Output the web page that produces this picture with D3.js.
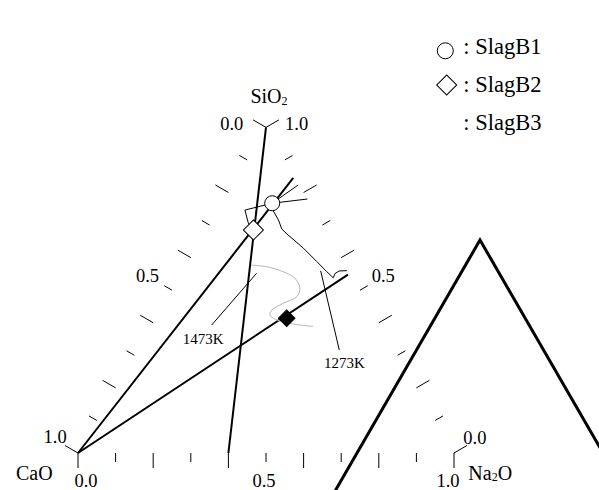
<!DOCTYPE html>
<html>
<head>
<meta charset="utf-8">
<script src="https://cdn.jsdelivr.net/npm/d3@7"></script>
<style>
body { margin: 0; background: #fff; }
svg text { font-family: "Liberation Serif", "Times New Roman", serif; fill: #000; }
</style>
</head>
<body>
<div id="main"></div>
<script>
var ctx = {
    w: 599,
    h: 490,
    left: 78,
    right: 454,
    base: 453,
};

// compositions are [SiO2, CaO, Na2O]
var tickValues = [0, 0.1, 0.2, 0.3, 0.4, 0.5, 0.6, 0.7, 0.8, 0.9, 1.0];
var tickLabels = ["0.0", "0.5", "1.0"];

var sampleNames = ["SlagB1", "SlagB2", "SlagB3"];
var sampleSiO2 = [0.767, 0.685, 0.414];
var sampleCaO = [0.100, 0.191, 0.238];
var sampleNa2O = [0.133, 0.124, 0.348];

var joinFrom = [[0, 1, 0], [0, 1, 0], [1, 0, 0]];
var joinTo = [[0.845, 0.005, 0.150], [0.548, 0.008, 0.444], [0, 0.6, 0.4]];

var tieEnds = [[0.823, 0.003, 0.174], [0.78, 0.0, 0.22]];
var bracket = [[0.746, 0.183, 0.071], [0.7055, 0.194, 0.100]];

var curve1273 = [
    [0.767, 0.100, 0.133], [0.743, 0.109, 0.148], [0.716, 0.109, 0.175],
    [0.688, 0.114, 0.198], [0.673, 0.108, 0.220], [0.629, 0.086, 0.285],
    [0.588, 0.071, 0.341], [0.557, 0.060, 0.383], [0.538, 0.052, 0.410],
    [0.551, 0.041, 0.408], [0.559, 0.026, 0.415], [0.560, 0.005, 0.435],
];
var curve1473 = [
    [0.577, 0.250, 0.173], [0.572, 0.212, 0.216], [0.557, 0.176, 0.268],
    [0.537, 0.155, 0.309], [0.506, 0.157, 0.338], [0.480, 0.178, 0.342],
    [0.460, 0.224, 0.316], [0.439, 0.265, 0.296], [0.424, 0.278, 0.299],
    [0.409, 0.267, 0.324], [0.396, 0.229, 0.375], [0.386, 0.179, 0.428],
];
var leader1273 = [[0.560, 0.075, 0.366], [0.316, 0.147, 0.537]];
var leader1473 = [[0.552, 0.249, 0.199], [0.393, 0.448, 0.159]];

var createViz = function () {
    var svg = d3.select("#main").append("svg")
        .attr("width", ctx.w)
        .attr("height", ctx.h)
        .attr("font-family", "'Liberation Serif', 'Times New Roman', serif");

    var x = d3.scaleLinear().domain([0, 1]).range([ctx.left, ctx.right]);
    var hgt = Math.sqrt(3) / 2;
    var y = d3.scaleLinear().domain([0, hgt])
        .range([ctx.base, ctx.base - (ctx.right - ctx.left) * hgt]);

    var proj = function (c) {
        var s = c[0] + c[1] + c[2];
        return [x(c[2] / s + c[0] / s / 2), y((c[0] / s) * hgt)];
    };
    var line = d3.line().x(function (d) { return proj(d)[0]; })
        .y(function (d) { return proj(d)[1]; });

    // ticks on the three edges, pointing outwards
    var edges = [
        { comp: function (v) { return [1 - v, v, 0]; }, n: [-0.866, -0.5] },
        { comp: function (v) { return [v, 0, 1 - v]; }, n: [0.866, -0.5] },
        { comp: function (v) { return [0, 1 - v, v]; }, n: [0, 1] },
    ];
    var gt = svg.append("g");
    edges.forEach(function (e) {
        gt.selectAll(null)
            .data(tickValues)
            .enter()
            .append("line")
            .attr("x1", function (d) { return proj(e.comp(d))[0]; })
            .attr("y1", function (d) { return proj(e.comp(d))[1]; })
            .attr("x2", function (d, i) { return proj(e.comp(d))[0] + e.n[0] * (i % 2 ? 9 : 15); })
            .attr("y2", function (d, i) { return proj(e.comp(d))[1] + e.n[1] * (i % 2 ? 9 : 15); })
            .attr("stroke", "black")
            .attr("stroke-width", 1);
    });

    // tick labels
    var labelSpots = [
        { e: 0, v: 0, dx: -22.7, dy: 2.6, a: "end" },
        { e: 0, v: 0.5, dx: -13, dy: -8.5, a: "end" },
        { e: 0, v: 1, dx: -11.3, dy: -9.7, a: "end" },
        { e: 1, v: 1, dx: 19, dy: 2.6, a: "start" },
        { e: 1, v: 0.5, dx: 11.7, dy: -8.5, a: "start" },
        { e: 1, v: 0, dx: 9.3, dy: -8.7, a: "start" },
        { e: 2, v: 0, dx: 8, dy: 34.3, a: "middle" },
        { e: 2, v: 0.5, dx: -2, dy: 34.3, a: "middle" },
        { e: 2, v: 1, dx: -6, dy: 34.3, a: "middle" },
    ];
    svg.append("g").selectAll("text")
        .data(labelSpots)
        .enter()
        .append("text")
        .attr("x", function (d) { return proj(edges[d.e].comp(d.v))[0] + d.dx; })
        .attr("y", function (d) { return proj(edges[d.e].comp(d.v))[1] + d.dy; })
        .attr("text-anchor", function (d) { return d.a; })
        .attr("font-size", 18.5)
        .text(function (d) {
            return tickLabels[Math.round(d.v * 2)];
        });

    // component names
    var top = proj([1, 0, 0]), lv = proj([0, 1, 0]), rv = proj([0, 0, 1]);
    var t1 = svg.append("text").attr("x", top[0] + 3).attr("y", top[1] - 24.5)
        .attr("text-anchor", "middle").attr("font-size", 20).text("SiO");
    t1.append("tspan").attr("font-size", 12).attr("dy", 2).text("2");
    svg.append("text").attr("x", lv[0] - 25.3).attr("y", lv[1] + 27)
        .attr("text-anchor", "end").attr("font-size", 20).text("CaO");
    var t3 = svg.append("text").attr("x", rv[0] + 14.3).attr("y", rv[1] + 27)
        .attr("font-size", 20).text("Na");
    t3.append("tspan").attr("font-size", 12).attr("dy", 1).text("2");
    t3.append("tspan").attr("dy", -1).text("O");

    // thick joining lines
    svg.append("g").selectAll("path")
        .data(joinFrom)
        .enter()
        .append("path")
        .attr("d", function (d, i) { return line([d, joinTo[i]]); })
        .attr("fill", "none")
        .attr("stroke", "black")
        .attr("stroke-width", 2);

    var b1 = [sampleSiO2[0], sampleCaO[0], sampleNa2O[0]];
    var b2 = [sampleSiO2[1], sampleCaO[1], sampleNa2O[1]];

    // thin lines
    var thin = svg.append("g").attr("fill", "none").attr("stroke", "black").attr("stroke-width", 1);
    tieEnds.forEach(function (d) { thin.append("path").attr("d", line([b1, d])); });
    thin.append("path").attr("d", line([b1].concat(bracket).concat([b2])));
    thin.append("path").attr("d", line(curve1273));
    thin.append("path").attr("d", line(leader1273));
    thin.append("path").attr("d", line(leader1473));

    svg.append("path")
        .attr("d", line.curve(d3.curveCatmullRom)(curve1473))
        .attr("fill", "none")
        .attr("stroke", "#b4b4b4")
        .attr("stroke-width", 1);
    line.curve(d3.curveLinear);

    var l73 = proj(leader1273[1]), l47 = proj(leader1473[1]);
    svg.append("text").attr("x", l73[0] + 5).attr("y", l73[1] + 17.5)
        .attr("text-anchor", "middle").attr("font-size", 15).text("1273K");
    svg.append("text").attr("x", l47[0] - 8.5).attr("y", l47[1] + 18.5)
        .attr("text-anchor", "middle").attr("font-size", 15).text("1473K");

    // sample markers
    var markers = [
        d3.symbol(d3.symbolCircle, Math.PI * 7.5 * 7.5),
        d3.symbol(d3.symbolSquare, 200),
        d3.symbol(d3.symbolSquare, 138),
    ];
    var fills = ["white", "white", "black"];
    var rot = [0, 45, 45];
    svg.append("g").selectAll("path")
        .data(sampleNames)
        .enter()
        .append("path")
        .attr("d", function (d, i) { return markers[i](); })
        .attr("transform", function (d, i) {
            var p = proj([sampleSiO2[i], sampleCaO[i], sampleNa2O[i]]);
            return "translate(" + p + ") rotate(" + rot[i] + ")";
        })
        .attr("fill", function (d, i) { return fills[i]; })
        .attr("stroke", "black")
        .attr("stroke-width", 1);

    // legend
    var lg = svg.append("g");
    lg.append("path").attr("d", d3.symbol(d3.symbolCircle, Math.PI * 64)())
        .attr("transform", "translate(445.3,50.8)")
        .attr("fill", "white").attr("stroke", "black");
    lg.append("path").attr("d", d3.symbol(d3.symbolSquare, 200)())
        .attr("transform", "translate(446.7,85) rotate(45)")
        .attr("fill", "white").attr("stroke", "black");
    lg.selectAll("text")
        .data(sampleNames)
        .enter()
        .append("text")
        .attr("x", 463.3)
        .attr("y", function (d, i) { return [54, 91.7, 130][i]; })
        .attr("font-size", 22.5)
        .text(function (d) { return ": " + d; });

    // SlagB3 triangle marker, drawn oversized
    lg.append("path").attr("d", d3.symbol(d3.symbolTriangle, 22500 * 3 * Math.sqrt(3))())
        .attr("transform", "translate(480,540)")
        .attr("fill", "none").attr("stroke", "black").attr("stroke-width", 3);
};

createViz();
</script>
</body>
</html>
